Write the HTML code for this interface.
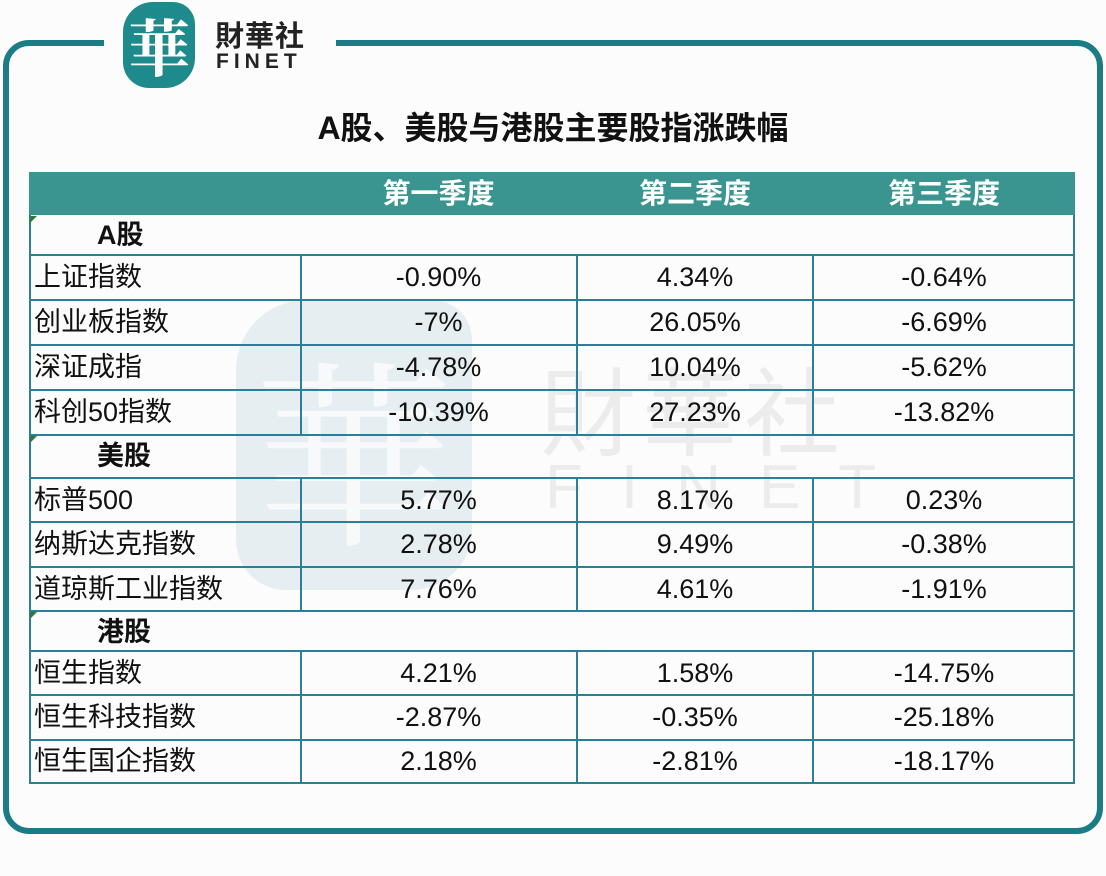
<!DOCTYPE html>
<html><head><meta charset="utf-8">
<style>
body{margin:0;width:1106px;height:876px;background:#fcfcfd;position:relative;overflow:hidden;font-family:"Liberation Sans","Noto Sans CJK SC",sans-serif;}
.frame{position:absolute;left:3px;top:40px;width:1088px;height:782px;border:6px solid #1b7c86;border-radius:26px;}
.gap{position:absolute;left:104px;top:36px;width:232px;height:14px;background:#fcfcfd;}
.logo{position:absolute;left:123px;top:2px;width:72px;height:86px;background:#1f8a8c;border-radius:30px 22px 30px 26px;color:#fff;font-family:"Noto Serif CJK SC",serif;font-size:62px;line-height:86px;text-align:center;font-weight:bold;}
.brand{position:absolute;left:215px;top:22px;color:#222;font-size:29px;line-height:30px;font-weight:bold;letter-spacing:1px;}
.brand2{position:absolute;left:216px;top:50px;color:#222;font-size:21px;font-weight:bold;letter-spacing:5px;}
.title{position:absolute;left:0;width:1106px;top:103px;text-align:center;font-size:32px;font-weight:bold;color:#111;}
.wm1{position:absolute;left:236px;top:300px;width:236px;height:290px;background:#dde9ee;border-radius:70px 40px 60px 50px;opacity:.7;}
.wm1 span{position:absolute;left:0;top:20px;width:236px;text-align:center;font-family:"Noto Serif CJK SC",serif;font-size:200px;color:#f5f9fa;line-height:250px;}
.wm2{position:absolute;left:540px;top:366px;font-size:96px;color:#ececec;line-height:100px;letter-spacing:6px;}
.wm3{position:absolute;left:545px;top:452px;font-size:62px;color:#ececec;letter-spacing:38px;}
.hdr{position:absolute;left:29px;top:172px;width:1046px;height:43px;background:#3a9490;}
.h{position:absolute;top:172px;height:43px;line-height:43px;color:#fff;font-size:28px;font-weight:bold;text-align:center;}
.line{position:absolute;background:#2d7f98;}
.c{position:absolute;font-size:27px;color:#111;text-align:center;line-height:44px;}
.l{position:absolute;left:34px;font-size:27px;color:#111;line-height:44px;}
.g{position:absolute;left:97px;font-size:27px;font-weight:bold;color:#111;line-height:40px;}
.tri{position:absolute;left:30px;width:0;height:0;border-top:7px solid #2a7a3a;border-right:7px solid transparent;}
</style></head><body>
<div class="frame"></div><div class="gap"></div>
<div class="logo">華</div>
<div class="brand">財華社</div>
<div class="brand2">FINET</div>
<div class="title">A股、美股与港股主要股指涨跌幅</div>
<div class="wm1"><span>華</span></div>
<div class="wm2">財華社</div>
<div class="wm3">FINET</div>
<div class="hdr"></div>
<div class="h" style="left:300px;width:277px">第一季度</div>
<div class="h" style="left:577px;width:236px">第二季度</div>
<div class="h" style="left:813px;width:262px">第三季度</div>

<div class="line" style="left:29px;top:254px;width:1046px;height:2px"></div>
<div class="line" style="left:29px;top:299px;width:1046px;height:2px"></div>
<div class="line" style="left:29px;top:344px;width:1046px;height:2px"></div>
<div class="line" style="left:29px;top:389px;width:1046px;height:2px"></div>
<div class="line" style="left:29px;top:434px;width:1046px;height:2px"></div>
<div class="line" style="left:29px;top:477px;width:1046px;height:2px"></div>
<div class="line" style="left:29px;top:521px;width:1046px;height:2px"></div>
<div class="line" style="left:29px;top:566px;width:1046px;height:2px"></div>
<div class="line" style="left:29px;top:610px;width:1046px;height:2px"></div>
<div class="line" style="left:29px;top:650px;width:1046px;height:2px"></div>
<div class="line" style="left:29px;top:694px;width:1046px;height:2px"></div>
<div class="line" style="left:29px;top:739px;width:1046px;height:2px"></div>
<div class="line" style="left:29px;top:782px;width:1046px;height:2px"></div>
<div class="line" style="left:29px;top:215px;width:2px;height:569px"></div>
<div class="line" style="left:1073px;top:215px;width:2px;height:569px"></div>
<div class="line" style="left:300px;top:254px;width:2px;height:182px"></div>
<div class="line" style="left:576px;top:254px;width:2px;height:182px"></div>
<div class="line" style="left:812px;top:254px;width:2px;height:182px"></div>
<div class="line" style="left:300px;top:477px;width:2px;height:135px"></div>
<div class="line" style="left:576px;top:477px;width:2px;height:135px"></div>
<div class="line" style="left:812px;top:477px;width:2px;height:135px"></div>
<div class="line" style="left:300px;top:650px;width:2px;height:134px"></div>
<div class="line" style="left:576px;top:650px;width:2px;height:134px"></div>
<div class="line" style="left:812px;top:650px;width:2px;height:134px"></div>

<div class="tri" style="top:216px"></div><div class="tri" style="top:436px"></div><div class="tri" style="top:612px"></div>
<div class="g" style="top:215px">A股</div>
<div class="g" style="top:436px">美股</div>
<div class="g" style="top:612px">港股</div>

<div class="l" style="top:255px">上证指数</div>
<div class="c" style="left:300px;width:277px;top:255px">-0.90%</div>
<div class="c" style="left:577px;width:236px;top:255px">4.34%</div>
<div class="c" style="left:813px;width:262px;top:255px">-0.64%</div>

<div class="l" style="top:300px">创业板指数</div>
<div class="c" style="left:300px;width:277px;top:300px">-7%</div>
<div class="c" style="left:577px;width:236px;top:300px">26.05%</div>
<div class="c" style="left:813px;width:262px;top:300px">-6.69%</div>

<div class="l" style="top:345px">深证成指</div>
<div class="c" style="left:300px;width:277px;top:345px">-4.78%</div>
<div class="c" style="left:577px;width:236px;top:345px">10.04%</div>
<div class="c" style="left:813px;width:262px;top:345px">-5.62%</div>

<div class="l" style="top:390px">科创50指数</div>
<div class="c" style="left:300px;width:277px;top:390px">-10.39%</div>
<div class="c" style="left:577px;width:236px;top:390px">27.23%</div>
<div class="c" style="left:813px;width:262px;top:390px">-13.82%</div>

<div class="l" style="top:478px">标普500</div>
<div class="c" style="left:300px;width:277px;top:478px">5.77%</div>
<div class="c" style="left:577px;width:236px;top:478px">8.17%</div>
<div class="c" style="left:813px;width:262px;top:478px">0.23%</div>

<div class="l" style="top:522px">纳斯达克指数</div>
<div class="c" style="left:300px;width:277px;top:522px">2.78%</div>
<div class="c" style="left:577px;width:236px;top:522px">9.49%</div>
<div class="c" style="left:813px;width:262px;top:522px">-0.38%</div>

<div class="l" style="top:567px">道琼斯工业指数</div>
<div class="c" style="left:300px;width:277px;top:567px">7.76%</div>
<div class="c" style="left:577px;width:236px;top:567px">4.61%</div>
<div class="c" style="left:813px;width:262px;top:567px">-1.91%</div>

<div class="l" style="top:651px">恒生指数</div>
<div class="c" style="left:300px;width:277px;top:651px">4.21%</div>
<div class="c" style="left:577px;width:236px;top:651px">1.58%</div>
<div class="c" style="left:813px;width:262px;top:651px">-14.75%</div>

<div class="l" style="top:695px">恒生科技指数</div>
<div class="c" style="left:300px;width:277px;top:695px">-2.87%</div>
<div class="c" style="left:577px;width:236px;top:695px">-0.35%</div>
<div class="c" style="left:813px;width:262px;top:695px">-25.18%</div>

<div class="l" style="top:739px">恒生国企指数</div>
<div class="c" style="left:300px;width:277px;top:739px">2.18%</div>
<div class="c" style="left:577px;width:236px;top:739px">-2.81%</div>
<div class="c" style="left:813px;width:262px;top:739px">-18.17%</div>
</body></html>
